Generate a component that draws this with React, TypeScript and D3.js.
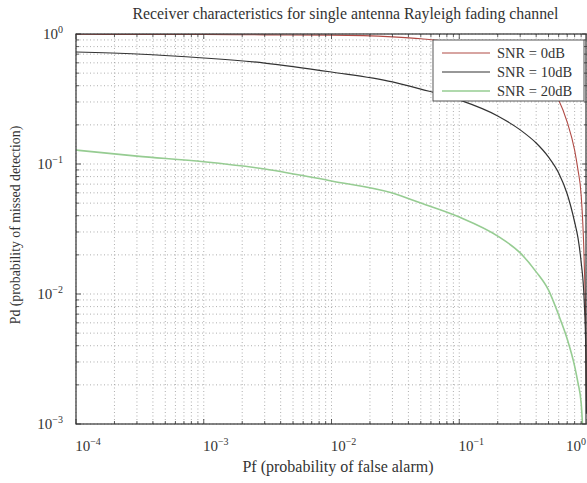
import React from 'react';
import * as d3 from 'd3';

// Pf (probability of false alarm) sample points
const pfValues = [1e-4, 3e-4, 1e-3, 3e-3, 1e-2, 3e-2, 0.05, 0.1, 0.2, 0.3, 0.4, 0.5, 0.6, 0.7, 0.8, 0.85, 0.9, 0.95, 0.98, 0.99];

// Pd (probability of missed detection)
const snr0 = [0.995, 0.993, 0.99, 0.985, 0.98, 0.95, 0.92, 0.85, 0.7, 0.6, 0.5, 0.4, 0.311, 0.21, 0.128, 0.09, 0.0578, 0.0183, 0.0044, 0.0015];
const snr10 = [0.727, 0.702, 0.654, 0.598, 0.51, 0.428, 0.377, 0.311, 0.234, 0.183, 0.145, 0.113, 0.0853, 0.0588, 0.0358, 0.027, 0.0176, 0.009, 0.0035, 0.0012];
const snr20 = [0.128, 0.115, 0.104, 0.0916, 0.074, 0.0598, 0.0501, 0.0391, 0.0279, 0.0207, 0.0148, 0.0107, 0.00689, 0.00451, 0.00279, 0.00207, 0.00145, 0.0005, 0.0002, 0.0001];

const seriesNames = ['SNR = 0dB', 'SNR = 10dB', 'SNR = 20dB'];
const seriesColors = ['#b04a45', '#333333', '#96cc92'];
const seriesWidths = [1.1, 1.2, 1.6];

const xTickExps = [-4, -3, -2, -1, 0];
const yTickExps = [0, -1, -2, -3];

const W = 587;
const H = 483;
const margin = { top: 34, right: 0, bottom: 59, left: 76 };

const font = '"Liberation Serif", "DejaVu Serif", serif';

const App = () => {
    const x = d3.scaleLog().domain([1e-4, 1]).range([margin.left, W - margin.right]);
    const y = d3.scaleLog().domain([1e-3, 1]).range([H - margin.bottom, margin.top]);

    const x0 = margin.left, x1 = W - margin.right;
    const y0 = margin.top, y1 = H - margin.bottom;

    // minor tick positions (2..9 in each decade)
    const xMinor: number[] = [];
    for (let e = -4; e < 0; e++) for (let j = 2; j <= 9; j++) xMinor.push(j * Math.pow(10, e));
    const yMinor: number[] = [];
    for (let e = -3; e < 0; e++) for (let j = 2; j <= 9; j++) yMinor.push(j * Math.pow(10, e));

    const series = [snr0, snr10, snr20];
    const line = d3.line<number>()
        .x((_, i) => x(pfValues[i]))
        .y(d => y(d))
        .curve(d3.curveMonotoneX);

    const lx = 433, ly = 40, lw = 151, lh = 61;

    return (
        <div style={{ position: 'absolute', left: 0, top: 0 }}>
            <svg width={W} height={H} style={{ display: 'block', background: '#fff' }} fontFamily={font}>
                <defs>
                    <clipPath id="plot">
                        <rect x={x0} y={y0} width={x1 - x0} height={y1 - y0} />
                    </clipPath>
                </defs>

                {/* grid */}
                <g stroke="#9a9a9a" strokeWidth={0.8} strokeDasharray="1,2.5">
                    {[...xMinor, ...xTickExps.map(e => Math.pow(10, e))].map((v, i) => (
                        <line key={'gx' + i} x1={x(v)} x2={x(v)} y1={y0} y2={y1} />
                    ))}
                    {[...yMinor, ...yTickExps.map(e => Math.pow(10, e))].map((v, i) => (
                        <line key={'gy' + i} x1={x0} x2={x1} y1={y(v)} y2={y(v)} />
                    ))}
                </g>

                {/* curves */}
                <g clipPath="url(#plot)" fill="none">
                    {series.map((s, i) => (
                        <path key={i} d={line(s) || ''} stroke={seriesColors[i]} strokeWidth={seriesWidths[i]} />
                    ))}
                </g>

                {/* ticks */}
                <g stroke="#333" strokeWidth={0.8}>
                    {xMinor.map((v, i) => (
                        <g key={'tx' + i}>
                            <line x1={x(v)} x2={x(v)} y1={y1} y2={y1 - 3} />
                            <line x1={x(v)} x2={x(v)} y1={y0} y2={y0 + 3} />
                        </g>
                    ))}
                    {xTickExps.map(e => (
                        <g key={'txm' + e}>
                            <line x1={x(Math.pow(10, e))} x2={x(Math.pow(10, e))} y1={y1} y2={y1 - 5} />
                            <line x1={x(Math.pow(10, e))} x2={x(Math.pow(10, e))} y1={y0} y2={y0 + 5} />
                        </g>
                    ))}
                    {yMinor.map((v, i) => (
                        <g key={'ty' + i}>
                            <line x1={x0} x2={x0 + 3} y1={y(v)} y2={y(v)} />
                            <line x1={x1} x2={x1 - 3} y1={y(v)} y2={y(v)} />
                        </g>
                    ))}
                    {yTickExps.map(e => (
                        <g key={'tym' + e}>
                            <line x1={x0} x2={x0 + 5} y1={y(Math.pow(10, e))} y2={y(Math.pow(10, e))} />
                            <line x1={x1} x2={x1 - 5} y1={y(Math.pow(10, e))} y2={y(Math.pow(10, e))} />
                        </g>
                    ))}
                </g>

                {/* frame */}
                <rect x={x0} y={y0} width={x1 - x0 - 1} height={y1 - y0} fill="none" stroke="#333" strokeWidth={1.2} />

                {/* x tick labels */}
                <g fontSize={15} fill="#333">
                    {xTickExps.map((e, i) => {
                        const last = i === xTickExps.length - 1;
                        return (
                            <text key={'lx' + e} x={last ? W - 1 : x(Math.pow(10, e)) + 12} y={y1 + 27}
                                textAnchor={last ? 'end' : 'middle'}>
                                10<tspan dy={-6} fontSize={10}>{e === 0 ? '0' : '\u2212' + Math.abs(e)}</tspan>
                            </text>
                        );
                    })}
                </g>

                {/* y tick labels */}
                <g fontSize={15} fill="#333">
                    {yTickExps.map(e => (
                        <text key={'ly' + e} x={x0 - 13} y={y(Math.pow(10, e)) + 5} textAnchor="end">
                            10<tspan dy={-6} fontSize={10}>{e === 0 ? '0' : '\u2212' + Math.abs(e)}</tspan>
                        </text>
                    ))}
                </g>

                {/* title & axis labels */}
                <text x={(x0 + x1) / 2 + 14} y={19} textAnchor="middle" fontSize={15.8} fill="#333">
                    Receiver characteristics for single antenna Rayleigh fading channel
                </text>
                <text x={338} y={472} textAnchor="middle" fontSize={16} fill="#333">
                    Pf (probability of false alarm)
                </text>
                <text transform={`translate(20, ${(y0 + y1) / 2 - 4}) rotate(-90)`} textAnchor="middle" fontSize={13.8} fill="#333">
                    Pd (probability of missed detection)
                </text>

                {/* legend */}
                <g>
                    <rect x={lx} y={ly} width={lw} height={lh} fill="#fff" stroke="#444" strokeWidth={0.9} />
                    {seriesNames.map((n, i) => (
                        <g key={n}>
                            <line x1={lx + 9} x2={lx + 57} y1={ly + 13 + i * 19} y2={ly + 13 + i * 19}
                                stroke={seriesColors[i]} strokeWidth={seriesWidths[i]} />
                            <text x={lx + 64} y={ly + 18 + i * 19} fontSize={14.5} fill="#333">{n}</text>
                        </g>
                    ))}
                </g>
            </svg>
        </div>
    );
};

export default App;
